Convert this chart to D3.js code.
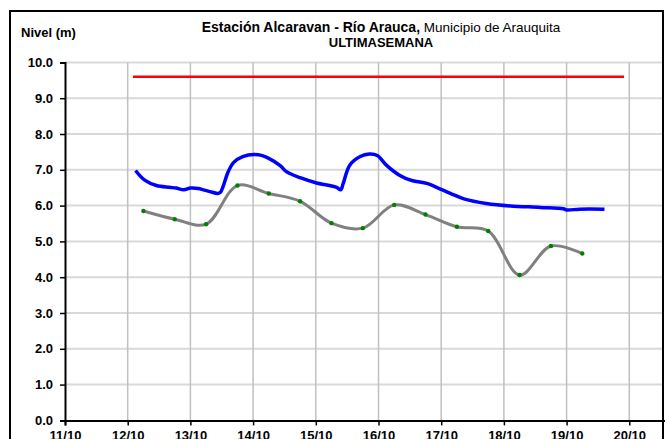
<!DOCTYPE html>
<html lang="es">
<head>
<meta charset="utf-8" />
<title>Estación Alcaravan - Río Arauca</title>
<script src="https://cdn.jsdelivr.net/npm/d3@7"></script>
<style>
  body { margin: 0; background: #fff; }
  svg { display: block; font-family: "Liberation Sans", Arial, sans-serif; }
</style>
</head>
<body>
<svg id="chart" width="665" height="439"></svg>
<script>
// ---- data ----
var dayTicks = ['11/10', '12/10', '13/10', '14/10', '15/10', '16/10', '17/10', '18/10', '19/10', '20/10'];
var yTicks = [0, 1, 2, 3, 4, 5, 6, 7, 8, 9, 10];

// blue: nivel observado
var nivelTimes = ['12/10 03:00', '12/10 06:30', '12/10 11:00', '12/10 16:00', '12/10 18:30', '12/10 21:30',
  '13/10 00:00', '13/10 03:00', '13/10 05:00', '13/10 07:30', '13/10 10:30', '13/10 11:30', '13/10 12:30',
  '13/10 14:30', '13/10 16:30', '13/10 20:00', '14/10 02:00', '14/10 06:00', '14/10 10:30', '14/10 12:45',
  '14/10 18:00', '15/10 00:00', '15/10 08:00', '15/10 09:30', '15/10 10:30', '15/10 13:00', '15/10 17:00',
  '15/10 20:30', '15/10 23:30', '16/10 03:00', '16/10 08:00', '16/10 12:45', '16/10 18:30', '16/10 22:15',
  '17/10 03:30', '17/10 09:00', '17/10 17:15', '18/10 02:30', '18/10 14:00', '18/10 22:45', '19/10 00:00',
  '19/10 05:00', '19/10 14:30'];
var nivelValues = [6.98, 6.71, 6.56, 6.51, 6.49, 6.44,
  6.49, 6.48, 6.44, 6.39, 6.34, 6.37, 6.53,
  6.95, 7.20, 7.37, 7.42, 7.32, 7.11, 6.95,
  6.78, 6.64, 6.51, 6.44, 6.62, 7.13, 7.37,
  7.44, 7.40, 7.13, 6.85, 6.70, 6.62, 6.51,
  6.34, 6.18, 6.06, 5.99, 5.95, 5.91, 5.88,
  5.90, 5.90];

// gray: lecturas cada 12 h (green markers)
var lecturaTimes = ['12/10 06:00', '12/10 18:00', '13/10 06:00', '13/10 18:00', '14/10 06:00', '14/10 18:00',
  '15/10 06:00', '15/10 18:00', '16/10 06:00', '16/10 18:00', '17/10 06:00', '17/10 18:00',
  '18/10 06:00', '18/10 18:00', '19/10 06:00'];
var lecturaValues = [5.85, 5.62, 5.48, 6.56, 6.34, 6.12, 5.51, 5.37, 6.02, 5.75, 5.41, 5.29, 4.06, 4.87, 4.66];

// red: nivel de alerta
var alertaTimes = ['12/10 02:00', '19/10 22:00'];
var alertaValues = [9.6, 9.6];

// ---- setup ----
var parse = d3.timeParse('%d/%m %H:%M');
var svg = d3.select('#chart');

var plotLeft = 65, plotTop = 62.4, plotBottom = 420.4;

var x = d3.scaleTime()
  .domain([parse('11/10 00:00'), parse('21/10 00:00')])
  .range([plotLeft, plotLeft + 62.7 * 10]);

var y = d3.scaleLinear()
  .domain([0, 10])
  .range([plotBottom, plotTop]);

var nivel = nivelTimes.map((t, i) => ({ t: parse(t), v: nivelValues[i] }));
var lectura = lecturaTimes.map((t, i) => ({ t: parse(t), v: lecturaValues[i] }));
var alerta = alertaTimes.map((t, i) => ({ t: parse(t), v: alertaValues[i] }));
var dayDates = dayTicks.map((d) => parse(d + ' 00:00'));

// outer frame
svg.append('rect')
  .attr('x', 10).attr('y', 11)
  .attr('width', 653).attr('height', 500)
  .attr('fill', 'none')
  .attr('stroke', '#000')
  .attr('stroke-width', 2);

// grid
svg.append('g')
  .selectAll('line')
  .data(yTicks.slice(1))
  .enter().append('line')
  .attr('x1', plotLeft).attr('x2', 662)
  .attr('y1', (d) => y(d)).attr('y2', (d) => y(d))
  .attr('stroke', '#d9d9d9')
  .attr('stroke-width', 2);

svg.append('g')
  .selectAll('line')
  .data(dayDates.slice(1))
  .enter().append('line')
  .attr('x1', (d) => x(d)).attr('x2', (d) => x(d))
  .attr('y1', plotTop).attr('y2', plotBottom)
  .attr('stroke', '#c0c0c0')
  .attr('stroke-width', 1.5);

// axes
var yAxis = svg.append('g')
  .attr('transform', `translate(${plotLeft},0)`)
  .call(d3.axisLeft(y).tickValues(yTicks).tickFormat(d3.format('.1f')).tickSize(5).tickPadding(7));

var xAxis = svg.append('g')
  .attr('transform', `translate(0,${plotBottom})`)
  .call(d3.axisBottom(x).tickValues(dayDates).tickFormat((d, i) => dayTicks[i]).tickSize(5).tickPadding(5));

[yAxis, xAxis].forEach(function (g) {
  g.select('.domain').attr('stroke', '#000').attr('stroke-width', 2);
  g.selectAll('.tick line').attr('stroke', '#000').attr('stroke-width', 1.5);
  g.selectAll('text')
    .attr('fill', '#000')
    .style('font-family', '"Liberation Sans", Arial, sans-serif')
    .style('font-size', '13px')
    .style('font-weight', 'bold');
});

// lines
var line = d3.line()
  .x((d) => x(d.t))
  .y((d) => y(d.v));

svg.append('path')
  .datum(alerta)
  .attr('d', line)
  .attr('fill', 'none')
  .attr('stroke', '#ff0000')
  .attr('stroke-width', 2.5);

svg.append('path')
  .datum(nivel)
  .attr('d', line.curve(d3.curveCatmullRom.alpha(0.5)))
  .attr('fill', 'none')
  .attr('stroke', '#0000ff')
  .attr('stroke-width', 3.5)
  .attr('stroke-linejoin', 'round');

svg.append('path')
  .datum(lectura)
  .attr('d', line.curve(d3.curveCatmullRom.alpha(0.5)))
  .attr('fill', 'none')
  .attr('stroke', '#808080')
  .attr('stroke-width', 3);

svg.append('g')
  .selectAll('circle')
  .data(lectura)
  .enter().append('circle')
  .attr('cx', (d) => x(d.t))
  .attr('cy', (d) => y(d.v))
  .attr('r', 2.2)
  .attr('fill', '#008000');

// titles
svg.append('text')
  .attr('x', 21).attr('y', 37)
  .style('font-size', '13px')
  .style('font-weight', 'bold')
  .text('Nivel (m)');

var title = svg.append('text')
  .attr('x', 381).attr('y', 31.5)
  .attr('text-anchor', 'middle')
  .style('font-size', '14px');
title.append('tspan').style('font-weight', 'bold').text('Estación Alcaravan - Río Arauca,');
title.append('tspan').style('font-size', '13.5px').text(' Municipio de Arauquita');

svg.append('text')
  .attr('x', 381).attr('y', 47)
  .attr('text-anchor', 'middle')
  .style('font-size', '13px')
  .style('font-weight', 'bold')
  .text('ULTIMASEMANA');
</script>
</body>
</html>
